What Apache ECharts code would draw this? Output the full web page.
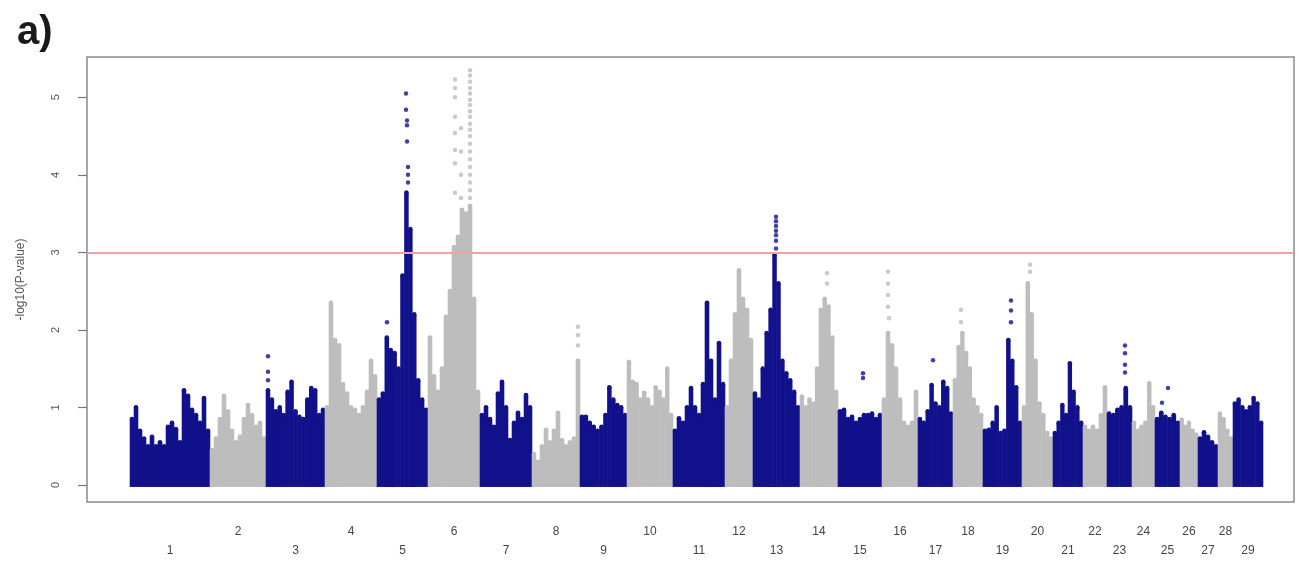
<!DOCTYPE html>
<html><head><meta charset="utf-8">
<script src="https://cdn.jsdelivr.net/npm/echarts@6/dist/echarts.min.js"></script>
<style>html,body{margin:0;padding:0;background:#fff}#c{width:1307px;height:570px}</style>
</head><body><div id="c"></div>
<script>
// chromosome labels and lengths (Mb)
const chrLabels = ['1','2','3','4','5','6','7','8','9','10','11','12','13','14','15','16','17','18','19','20','21','22','23','24','25','26','27','28','29'];
const chrLengths = [160,112,118,104,102,104,104,96,94,92,104,56,94,76,88,72,70,60,78,62,60,48,50,46,50,36,40,30,60];

// upper envelope of the dense point cloud, evenly spaced along each chromosome (-log10 P)
const chr1 = [0.85,1.0,0.7,0.6,0.5,0.62,0.5,0.55,0.5,0.75,0.8,0.72,0.55,1.22,1.15,0.97,0.9,0.8,1.12,0.7];
const chr2 = [0.45,0.6,0.85,1.15,0.95,0.7,0.55,0.62,0.85,1.03,0.9,0.75,0.8,0.6];
const chr3 = [1.22,1.1,0.95,1.0,0.9,1.2,1.33,0.95,0.88,0.85,1.1,1.25,1.22,0.9,0.97];
const chr4 = [1.0,2.35,1.87,1.8,1.3,1.18,1.0,0.97,0.9,1.0,1.2,1.6,1.4];
const chr5 = [1.1,1.18,1.9,1.74,1.7,1.5,2.7,3.77,3.3,2.2,1.35,1.1,0.97];
const chr6 = [1.9,1.4,1.2,1.5,2.17,2.5,3.07,3.2,3.55,3.5,3.6,2.4,1.2];
const chr7 = [0.9,1.0,0.85,0.75,1.18,1.33,1.0,0.58,0.8,0.93,0.85,1.16,1.0];
const chr8 = [0.4,0.3,0.5,0.71,0.55,0.7,0.93,0.58,0.5,0.55,0.6,1.6];
const chr9 = [0.88,0.88,0.8,0.75,0.7,0.75,0.9,1.26,1.1,1.03,1.0,0.9];
const chr10 = [1.59,1.33,1.3,1.1,1.19,1.1,1.0,1.26,1.2,1.1,1.5,0.9];
const chr11 = [0.7,0.86,0.8,1.0,1.25,1.0,0.9,1.3,2.35,1.6,1.1,1.83,1.3];
const chr12 = [1.0,1.6,2.2,2.77,2.4,2.26,1.87];
const chr13 = [1.18,1.1,1.5,1.96,2.26,2.97,2.6,1.6,1.44,1.35,1.2,1.0];
const chr14 = [1.14,1.0,1.1,1.05,1.5,2.26,2.4,2.3,1.9,1.2];
const chr15 = [0.95,0.97,0.85,0.88,0.8,0.85,0.9,0.9,0.92,0.85,0.9];
const chr16 = [1.1,1.96,1.8,1.5,1.1,0.8,0.75,0.8,1.2];
const chr17 = [0.85,0.8,0.95,1.29,1.05,1.0,1.33,1.25,0.92];
const chr18 = [1.35,1.78,1.96,1.7,1.5,1.1,1.0,0.9];
const chr19 = [0.7,0.71,0.8,1.0,0.67,0.7,1.87,1.6,1.26,0.8];
const chr20 = [1.0,2.6,2.2,1.6,1.05,0.9,0.67,0.6];
const chr21 = [0.67,0.8,1.03,0.9,1.57,1.2,1.0,0.8];
const chr22 = [0.75,0.7,0.75,0.7,0.9,1.26];
const chr23 = [0.92,0.9,0.97,1.0,1.25,1.0];
const chr24 = [0.8,0.7,0.75,0.8,1.31,1.0];
const chr25 = [0.85,0.93,0.88,0.85,0.9,0.8];
const chr26 = [0.84,0.75,0.8,0.7,0.65];
const chr27 = [0.6,0.68,0.62,0.55,0.5];
const chr28 = [0.92,0.85,0.7,0.6];
const chr29 = [1.05,1.1,1.0,0.95,1.0,1.12,1.05,0.8];
const envelopes = [chr1,chr2,chr3,chr4,chr5,chr6,chr7,chr8,chr9,chr10,chr11,chr12,chr13,chr14,chr15,chr16,chr17,chr18,chr19,chr20,chr21,chr22,chr23,chr24,chr25,chr26,chr27,chr28,chr29];

// isolated SNPs above the cloud: [chromosome, position within chromosome (Mb), -log10 P]
const peakDots = [
  [3,4,1.66],[3,4,1.46],[3,4,1.35],
  [5,20,2.1],[5,58,5.05],[5,58,4.84],[5,60,4.7],[5,60,4.64],[5,60,4.43],[5,62,4.1],[5,62,4.0],[5,62,3.9],
  [6,54,5.23],[6,54,5.12],[6,54,5.0],[6,54,4.75],[6,54,4.54],[6,54,4.32],[6,54,4.15],[6,54,3.77],
  [6,66,4.6],[6,66,4.3],[6,66,4.0],[6,66,3.7],
  [6,84,5.35],[6,84,5.28],[6,84,5.2],[6,84,5.12],[6,84,5.05],[6,84,4.97],[6,84,4.9],[6,84,4.82],[6,84,4.75],[6,84,4.66],[6,84,4.58],[6,84,4.5],[6,84,4.4],[6,84,4.3],[6,84,4.2],[6,84,4.1],[6,84,4.0],[6,84,3.9],[6,84,3.8],[6,84,3.7],
  [8,92,2.04],[8,92,1.93],[8,92,1.8],
  [13,46,3.46],[13,46,3.4],[13,46,3.34],[13,46,3.28],[13,46,3.22],[13,46,3.15],[13,46,3.05],
  [14,54,2.73],[14,54,2.6],
  [15,50,1.44],[15,50,1.38],
  [16,12,2.75],[16,12,2.6],[16,12,2.45],[16,12,2.3],[16,14,2.15],
  [17,30,1.61],
  [18,16,2.26],[18,16,2.1],
  [19,56,2.38],[19,56,2.25],[19,56,2.1],
  [20,16,2.84],[20,16,2.75],
  [23,36,1.8],[23,36,1.7],[23,36,1.55],[23,36,1.45],
  [25,26,1.25],[25,14,1.06]
];
const yTicks = [0,1,2,3,4,5];
const threshold = 3;

const oddColor = '#11118c';
const evenColor = '#bdbdbd';

// cumulative starts
const starts = [];
let acc = 0;
chrLengths.forEach(l => { starts.push(acc); acc += l; });
const centers = chrLengths.map((l, i) => starts[i] + l / 2);

const massData = [];
envelopes.forEach((arr, ci) => {
  const w = chrLengths[ci] / arr.length;
  arr.forEach((h, j) => {
    massData.push([starts[ci] + (j + 0.5) * w, h, w / 2, ci % 2]);
  });
});
const dotData = peakDots.map(d => [starts[d[0] - 1] + d[1], d[2], (d[0] - 1) % 2]);

function labelFor(v) {
  let best = 0, bd = Infinity;
  centers.forEach((c, i) => { const dd = Math.abs(c - v); if (dd < bd) { bd = dd; best = i; } });
  return best % 2 === 0 ? '\n' + chrLabels[best] : chrLabels[best];
}

const chart = echarts.init(document.getElementById('c'), null, {renderer: 'canvas'});
chart.setOption({
  animation: false,
  backgroundColor: '#fff',
  title: {text: 'a)', left: 12, top: 8, textStyle: {fontSize: 40, fontWeight: 'bold', color: '#1a1a1a', fontFamily: 'Liberation Sans, Arial, sans-serif'}},
  grid: {left: 87, right: 13, top: 57, bottom: 68, show: true, borderColor: '#8a8a8a', borderWidth: 1.5, containLabel: false},
  xAxis: {
    type: 'value', min: -86, max: acc + 62,
    axisLine: {show: false, onZero: false}, axisTick: {show: false}, splitLine: {show: false},
    axisLabel: {customValues: centers, formatter: labelFor, margin: 20, lineHeight: 19, fontSize: 12, color: '#444', fontFamily: 'Liberation Sans, Arial, sans-serif'}
  },
  yAxis: {
    type: 'value', min: -0.22, max: 5.52,
    name: '-log10(P-value)', nameLocation: 'middle', nameGap: 60, nameRotate: 90,
    nameTextStyle: {fontSize: 12, color: '#555', fontFamily: 'Liberation Sans, Arial, sans-serif'},
    axisLine: {show: false, onZero: false}, splitLine: {show: false},
    axisTick: {show: true, customValues: yTicks, length: 9, lineStyle: {color: '#777', width: 1.2}},
    axisLabel: {customValues: yTicks, rotate: 90, margin: 26, fontSize: 11, color: '#555', fontFamily: 'Liberation Sans, Arial, sans-serif'}
  },
  series: [
    {
      type: 'custom', name: 'cloud', data: massData, clip: true,
      renderItem: function (params, api) {
        const x = api.value(0), h = api.value(1), hw = api.value(2), par = api.value(3);
        const p1 = api.coord([x - hw, h]);
        const p2 = api.coord([x + hw, 0]);
        const color = par ? evenColor : oddColor;
        return {type: 'group', children: [
          {type: 'rect', shape: {x: p1[0] - 0.3, y: p1[1], width: p2[0] - p1[0] + 0.6, height: p2[1] - p1[1] + 2}, style: {fill: color}},
          {type: 'circle', shape: {cx: (p1[0] + p2[0]) / 2, cy: p1[1], r: 2.3}, style: {fill: color}}
        ]};
      }
    },
    {
      type: 'scatter', name: 'peaks', data: dotData, symbolSize: 4.5,
      itemStyle: {color: function (p) { return p.data[2] ? evenColor : oddColor; }},
      markLine: {silent: true, symbol: 'none', label: {show: false}, animation: false,
        lineStyle: {color: '#f3a0a0', width: 2, type: 'solid'}, data: [{yAxis: threshold}]}
    }
  ]
});
</script></body></html>
